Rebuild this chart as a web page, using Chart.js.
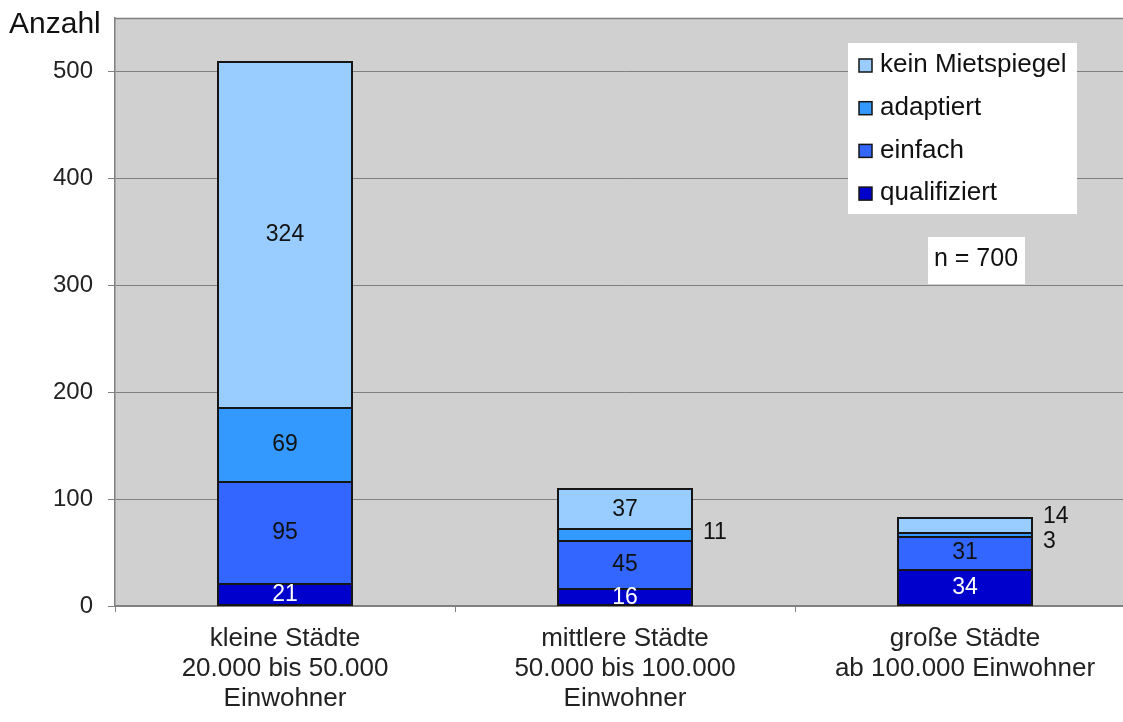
<!DOCTYPE html>
<html lang="de">
<head>
<meta charset="utf-8">
<title>Mietspiegel nach Stadtgröße</title>
<script src="https://cdn.jsdelivr.net/npm/chart.js@4/dist/chart.umd.min.js"></script>
<style>
  html, body { margin: 0; padding: 0; background: #fff; overflow: hidden; }
  #wrap { position: absolute; left: 0; top: 0; width: 1140px; height: 722px; }
  canvas { display: block; }
</style>
</head>
<body>
<div id="wrap"><canvas id="chart" width="1140" height="722"></canvas></div>
<script>
// Städte nach Größenklasse
const categories = [
  ['kleine Städte', '20.000 bis 50.000', 'Einwohner'],
  ['mittlere Städte', '50.000 bis 100.000', 'Einwohner'],
  ['große Städte', 'ab 100.000 Einwohner']
];

// Anzahl der Städte je Mietspiegel-Typ (von unten nach oben gestapelt)
const qualifiziert = [21, 16, 34];
const einfach      = [95, 45, 31];
const adaptiert    = [69, 11, 3];
const keinMietspiegel = [324, 37, 14];

const seriesNames = ['qualifiziert', 'einfach', 'adaptiert', 'kein Mietspiegel'];
const yTicks = [0, 100, 200, 300, 400, 500];
const axisTitle = 'Anzahl';

const FONT = "'Liberation Sans', Arial, Helvetica, sans-serif";
const colors = ['#0000CC', '#3366FF', '#3399FF', '#99CCFF'];
const labelColors = ['#ffffff', '#111111', '#111111', '#111111'];
const EDGE = '#151515';

// Beschriftungen, die neben dem Balken stehen statt darin
const sideLabels = [
  { series: 2, cat: 1, dy: -2 },
  { series: 3, cat: 2, dy: -9 },
  { series: 2, cat: 2, dy: 7 }
];

const seriesValues = [qualifiziert, einfach, adaptiert, keinMietspiegel];
const total = seriesValues.reduce((s, arr) => s + arr.reduce((a, b) => a + b, 0), 0);

const datasets = seriesNames.map((name, i) => ({
  label: name,
  data: seriesValues[i],
  backgroundColor: colors[i],
  borderWidth: 0,
  inflateAmount: 0,
  barPercentage: 0.4,
  categoryPercentage: 1.0
}));

const plotBackground = {
  id: 'plotBackground',
  beforeDraw(chart) {
    const { ctx, chartArea: a } = chart;
    ctx.save();
    ctx.fillStyle = '#D0D0D0';
    ctx.fillRect(a.left, a.top, a.right - a.left, a.bottom - a.top);
    ctx.strokeStyle = '#808080';
    ctx.lineWidth = 1.5;
    ctx.beginPath();
    ctx.moveTo(a.left, a.top + 0.5);
    ctx.lineTo(a.right, a.top + 0.5);
    ctx.stroke();
    ctx.restore();
  }
};

// Trennlinien zwischen den Segmenten und Umriss um jeden Balkenstapel
const stackOutline = {
  id: 'stackOutline',
  afterDatasetsDraw(chart) {
    const ctx = chart.ctx;
    const metas = chart.data.datasets.map((d, i) => chart.getDatasetMeta(i));
    ctx.save();
    ctx.strokeStyle = EDGE;
    ctx.lineWidth = 2;
    metas[0].data.forEach((bar, ci) => {
      const left = bar.x - bar.width / 2, right = bar.x + bar.width / 2;
      for (let si = 1; si < metas.length; si++) {
        const yb = Math.round(metas[si].data[ci].base);
        ctx.beginPath();
        ctx.moveTo(left, yb);
        ctx.lineTo(right, yb);
        ctx.stroke();
      }
      const top = Math.round(metas[metas.length - 1].data[ci].y);
      ctx.strokeRect(left + 1, top, right - left - 2, Math.round(bar.base) - top - 1);
    });
    ctx.restore();
  }
};

const valueLabels = {
  id: 'valueLabels',
  afterDatasetsDraw(chart) {
    const ctx = chart.ctx;
    ctx.save();
    ctx.font = '23px ' + FONT;
    ctx.textBaseline = 'middle';
    chart.data.datasets.forEach((ds, si) => {
      const meta = chart.getDatasetMeta(si);
      meta.data.forEach((bar, ci) => {
        const v = ds.data[ci];
        const side = sideLabels.find(s => s.series === si && s.cat === ci);
        const cy = (bar.y + bar.base) / 2;
        if (side) {
          ctx.fillStyle = '#111111';
          ctx.textAlign = 'left';
          ctx.fillText(String(v), bar.x + bar.width / 2 + 10, cy + side.dy);
        } else {
          ctx.fillStyle = labelColors[si];
          ctx.textAlign = 'center';
          ctx.fillText(String(v), bar.x, cy);
        }
      });
    });
    ctx.restore();
  }
};

const boxLegend = {
  id: 'boxLegend',
  afterDraw(chart) {
    const ctx = chart.ctx;
    ctx.save();
    // Legende
    const bx = 848, by = 43, bw = 229, bh = 171;
    ctx.fillStyle = '#ffffff';
    ctx.fillRect(bx, by, bw, bh);
    ctx.font = '26px ' + FONT;
    ctx.textBaseline = 'middle';
    ctx.textAlign = 'left';
    const items = chart.data.datasets.map((d, i) => ({ label: d.label, color: d.backgroundColor })).reverse();
    items.forEach((it, k) => {
      const cy = 65 + k * 42.7;
      ctx.fillStyle = it.color;
      ctx.fillRect(859, cy - 6, 13, 13);
      ctx.strokeStyle = EDGE;
      ctx.lineWidth = 1.5;
      ctx.strokeRect(859, cy - 6, 13, 13);
      ctx.fillStyle = '#111111';
      ctx.fillText(it.label, 880, cy);
    });
    // Stichprobengröße
    ctx.fillStyle = '#ffffff';
    ctx.fillRect(928, 237, 97, 47);
    ctx.fillStyle = '#111111';
    ctx.textAlign = 'center';
    ctx.font = '25px ' + FONT;
    ctx.fillText('n = ' + total, 976, 259);
    // Achsentitel
    ctx.textAlign = 'left';
    ctx.font = '30px ' + FONT;
    ctx.fillText(axisTitle, 9, 25);
    ctx.restore();
  }
};

new Chart(document.getElementById('chart'), {
  type: 'bar',
  data: { labels: categories, datasets },
  options: {
    responsive: false,
    animation: false,
    devicePixelRatio: 1,
    layout: { padding: { top: 18, left: 0, right: 5, bottom: 0 } },
    plugins: { legend: { display: false }, tooltip: { enabled: false } },
    scales: {
      x: {
        stacked: true,
        afterFit(scale) {
          scale.height = 722 - 606;
          scale.paddingLeft = 0;
          scale.paddingRight = 0;
        },
        grid: {
          display: true, offset: true, drawOnChartArea: false, drawTicks: true,
          tickLength: 6, color: '#808080', lineWidth: 1
        },
        border: { display: true, color: '#808080', width: 1.5 },
        ticks: {
          color: '#222222', padding: 12,
          font: { family: FONT, size: 26, lineHeight: 1.154 },
          maxRotation: 0, autoSkip: false
        }
      },
      y: {
        stacked: true,
        min: 0, max: 550,
        afterFit(scale) {
          scale.width = 115;
          scale.paddingTop = 0;
          scale.paddingBottom = 0;
        },
        afterBuildTicks(scale) { scale.ticks = yTicks.map(v => ({ value: v })); },
        grid: { color: '#808080', lineWidth: 1, tickLength: 7, drawTicks: true },
        border: { display: true, color: '#808080', width: 1.5 },
        ticks: {
          color: '#222222', padding: 15,
          font: { family: FONT, size: 24 }
        }
      }
    }
  },
  plugins: [plotBackground, stackOutline, valueLabels, boxLegend]
});
</script>
</body>
</html>
